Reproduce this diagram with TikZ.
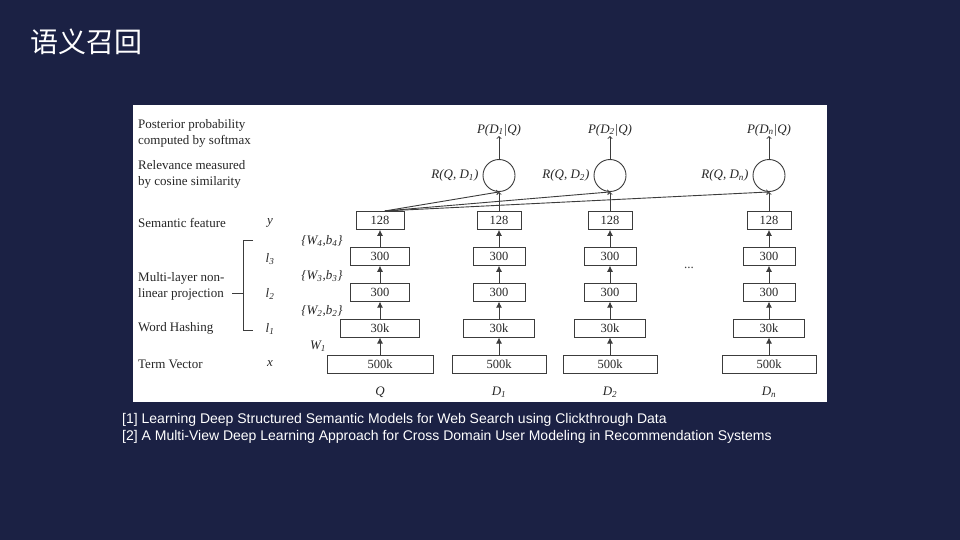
\documentclass[tikz,border=0pt]{standalone}
\usepackage{fontspec}
\setmainfont{Liberation Serif}
\newfontfamily\capfont{Liberation Sans}
\newfontfamily\cjk{Noto Sans CJK SC}
\usepackage{tikz}
\usetikzlibrary{arrows, arrows.meta, positioning, calc}
\definecolor{slidebg}{RGB}{27,33,68}
\definecolor{inkgray}{RGB}{60,60,60}

\begin{document}
\begin{tikzpicture}[%
  x=1pt, y=-1pt, node distance=17pt, >=to,%
  vec/.style={rectangle, draw=inkgray, line width=0.9pt, minimum height=18pt, inner sep=0pt, text=black!85, font=\fontsize{12.5}{13}\selectfont},%
  sim/.style={circle, draw=inkgray, line width=0.9pt, minimum size=32pt, inner sep=0pt},%
  lbl/.style={anchor=west, align=left, inner sep=0pt, text=black!85, font=\fontsize{13}{16}\selectfont},%
  var/.style={inner sep=0pt, text=black!85, font=\fontsize{13}{14}\selectfont\itshape},%
  up/.style={-{Latex[length=6pt, width=6pt]}, line width=0.9pt, draw=inkgray},%
  link/.style={->, line width=0.9pt, draw=inkgray},%
  slide/.style={anchor=west, inner sep=0pt, text=white}%
]
  \useasboundingbox (0,0) rectangle (960,540);
  \fill[slidebg] (0,0) rectangle (960,540);
  \fill[white] (133,105) rectangle (827,402);
  \node[slide, font=\cjk\fontsize{28}{30}\selectfont] (title) at (30,42) {语义召回};
  % stacks
  \foreach \c/\cx/\cn/\wxa/\wxb/\wxc/\wxd in {q/380/Q/106/79/59/48, a/499/D\textsubscript{1}/94/71/52/44,
      b/610/D\textsubscript{2}/94/71/52/44, n/769/D\textsubscript{n}/94/71/52/44} {
    \node[vec, minimum width=\wxa pt] (\c0) at (\cx,364) {500k};
    \node[vec, minimum width=\wxb pt, above=of \c0] (\c1) {30k};
    \node[vec, minimum width=\wxc pt, above=of \c1] (\c2) {300};
    \node[vec, minimum width=\wxc pt, above=of \c2] (\c3) {300};
    \node[vec, minimum width=\wxd pt, above=of \c3] (\c4) {128};
    \node[var] (\c-name) at (\cx,392) {\cn};
    \draw[up] (\c0) -- (\c1);
    \draw[up] (\c1) -- (\c2);
    \draw[up] (\c2) -- (\c3);
    \draw[up] (\c3) -- (\c4);
  }
  % cosine + softmax
  \foreach \c/\cn in {a/1, b/2, n/n} {
    \node[sim, above=19pt of \c4] (r\c) {};
    \node[var, left=4pt of r\c] (rl\c) {R(Q, D\textsubscript{\cn})};
    \node[var, above=23pt of r\c] (p\c) {P(D\textsubscript{\cn}|Q)};
    \draw[link] (\c4) -- (r\c);
    \draw[link] (r\c) -- (p\c);
    \draw[link] ([xshift=5pt]q4.north) -- (r\c.south);
  }
  \node[inner sep=0pt, text=inkgray, font=\fontsize{13}{14}\selectfont] (dots) at (689,268) {...};
  % left side
  \node[lbl] (post) at (138,133) {Posterior probability\\computed by softmax};
  \node[lbl] (rel) at (138,174) {Relevance measured\\by cosine similarity};
  \node[lbl] (sem) at (138,223) {Semantic feature};
  \node[lbl] (mlp) at (138,286) {Multi-layer non-\\linear projection};
  \node[lbl] (hash) at (138,328) {Word Hashing};
  \node[lbl] (term) at (138,364) {Term Vector};
  \node[var] (vy) at (270,223) {y};
  \node[var] (vl3) at (270,259) {l\textsubscript{3}};
  \node[var] (vl2) at (270,294) {l\textsubscript{2}};
  \node[var] (vl1) at (270,329) {l\textsubscript{1}};
  \node[var] (vx) at (270,364) {x};
  \node[var] (w4) at (322,241) {\{W\textsubscript{4},b\textsubscript{4}\}};
  \node[var] (w3) at (322,276) {\{W\textsubscript{3},b\textsubscript{3}\}};
  \node[var] (w2) at (322,311) {\{W\textsubscript{2},b\textsubscript{2}\}};
  \node[var] (w1) at (318,346) {W\textsubscript{1}};
  \draw[inkgray, line width=0.9pt] (253,240) -- (243,240) -- (243,330) -- (253,330)
    (232,293) -- (243,293);
  % references
  \node[slide, font=\capfont\fontsize{14}{15}\selectfont] (ref1) at (122,420) {[1] Learning Deep Structured Semantic Models for Web Search using Clickthrough Data};
  \node[slide, font=\capfont\fontsize{14}{15}\selectfont] (ref2) at (122,437) {[2] A Multi-View Deep Learning Approach for Cross Domain User Modeling in Recommendation Systems};
\end{tikzpicture}
\end{document}
